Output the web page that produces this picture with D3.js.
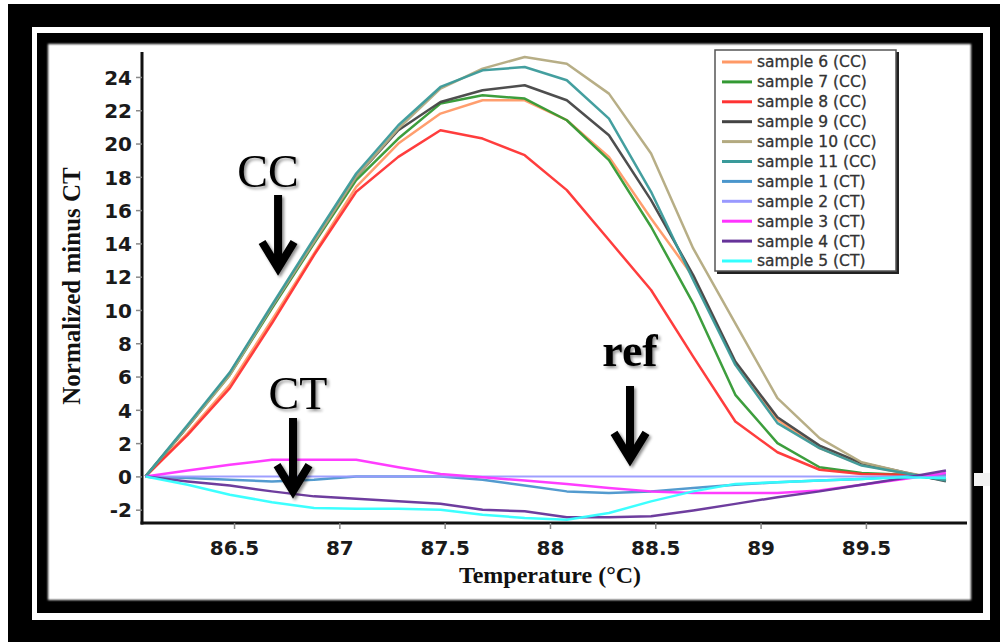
<!DOCTYPE html>
<html><head><meta charset="utf-8">
<script src="https://cdn.jsdelivr.net/npm/d3@7"></script>
<style>html,body{margin:0;padding:0;background:#fff;}svg{display:block;}</style>
</head><body>
<svg id="chart" width="1000" height="642"></svg>
<script>
// ---- data ----
const temps = [86.08, 86.28, 86.48, 86.68, 86.88, 87.08, 87.28, 87.48, 87.68, 87.88, 88.08, 88.28, 88.48, 88.68, 88.88, 89.08, 89.28, 89.48, 89.68, 89.88];
const seriesNames = ["sample 6 (CC)", "sample 7 (CC)", "sample 8 (CC)", "sample 9 (CC)", "sample 10 (CC)", "sample 11 (CC)", "sample 1 (CT)", "sample 2 (CT)", "sample 3 (CT)", "sample 4 (CT)", "sample 5 (CT)"];
const seriesColors = ["#ff9966", "#339933", "#ff3333", "#444444", "#b3aa80", "#3a9a9a", "#4a96cc", "#9999ff", "#ff33ff", "#663399", "#33ffff"];
const sample6 = [0, 2.6, 5.5, 9.4, 13.4, 17.4, 20.0, 21.8, 22.6, 22.6, 21.4, 19.2, 15.5, 12.0, 6.8, 3.4, 1.7, 0.7, 0.2, -0.2];
const sample7 = [0, 3.0, 6.1, 10.1, 14.0, 17.8, 20.3, 22.4, 22.9, 22.7, 21.4, 19.0, 15.0, 10.4, 4.9, 2.0, 0.55, 0.2, 0.1, -0.2];
const sample8 = [0, 2.5, 5.3, 9.2, 13.3, 17.1, 19.2, 20.8, 20.3, 19.3, 17.2, 14.2, 11.2, 7.2, 3.3, 1.45, 0.4, 0.15, 0.1, -0.1];
const sample9 = [0, 3.0, 6.2, 10.2, 14.1, 18.0, 20.8, 22.5, 23.2, 23.5, 22.6, 20.5, 16.6, 12.1, 6.9, 3.55, 1.85, 0.8, 0.25, -0.3];
const sample10 = [0, 3.0, 6.1, 10.2, 14.1, 18.0, 20.9, 23.3, 24.5, 25.2, 24.8, 23.0, 19.4, 13.7, 9.2, 4.7, 2.3, 0.85, 0.25, -0.2];
const sample11 = [0, 3.1, 6.25, 10.3, 14.3, 18.2, 21.1, 23.4, 24.4, 24.6, 23.8, 21.5, 17.1, 11.8, 6.7, 3.2, 1.7, 0.65, 0.2, -0.25];
const sample1 = [0, -0.1, -0.2, -0.3, -0.2, 0, 0, 0, -0.2, -0.55, -0.9, -1.0, -0.9, -0.7, -0.5, -0.35, -0.25, -0.15, 0, 0.1];
const sample2 = [0, 0, 0, 0, 0, 0, 0, 0, 0, 0, 0, 0, 0, 0, 0, 0, 0, 0, 0, 0];
const sample3 = [0, 0.35, 0.7, 1.0, 1.0, 1.0, 0.55, 0.15, -0.05, -0.25, -0.45, -0.7, -0.9, -1.0, -1.0, -1.0, -0.85, -0.5, -0.15, 0.2];
const sample4 = [0, -0.3, -0.55, -0.9, -1.2, -1.35, -1.5, -1.65, -2.0, -2.1, -2.45, -2.45, -2.4, -2.05, -1.65, -1.25, -0.9, -0.5, -0.1, 0.35];
const sample5 = [0, -0.5, -1.1, -1.55, -1.9, -1.95, -1.95, -2.0, -2.3, -2.5, -2.6, -2.2, -1.5, -0.9, -0.45, -0.35, -0.25, -0.15, -0.05, -0.1];
const seriesValues = [sample6, sample7, sample8, sample9, sample10, sample11, sample1, sample2, sample3, sample4, sample5];
const xTickValues = [86.5, 87, 87.5, 88, 88.5, 89, 89.5];
const yTickValues = [-2, 0, 2, 4, 6, 8, 10, 12, 14, 16, 18, 20, 22, 24];
const xTitle = "Temperature (\u00B0C)";
const yTitle = "Normalized minus CT";
const annotationLabels = ["CC", "CT", "ref"];
const annotationTips = [[86.709, 12.28], [86.78, -1.12], [88.38, 0.81]]; // arrow tip [temperature, value]

// ---- drawing ----
const svg = d3.select("#chart");
const defs = svg.append("defs");
defs.append("filter").attr("id", "soft").attr("x", "-5%").attr("y", "-5%").attr("width", "110%").attr("height", "110%")
  .append("feGaussianBlur").attr("stdDeviation", 1.3);
const sh = defs.append("filter").attr("id", "ashadow").attr("x", "-50%").attr("y", "-50%").attr("width", "200%").attr("height", "200%");
sh.append("feGaussianBlur").attr("in", "SourceAlpha").attr("stdDeviation", 1.6).attr("result", "b");
sh.append("feOffset").attr("in", "b").attr("dx", 1.5).attr("dy", 1.5).attr("result", "o");
sh.append("feComponentTransfer").attr("in", "o").attr("result", "o2").append("feFuncA").attr("type", "linear").attr("slope", 0.45);
const mg = sh.append("feMerge");
mg.append("feMergeNode").attr("in", "o2");
mg.append("feMergeNode").attr("in", "SourceGraphic");

// frame
svg.append("rect").attr("x", 0).attr("y", 0).attr("width", 1000).attr("height", 642).attr("fill", "#fff");
svg.append("rect").attr("x", 8).attr("y", 4).attr("width", 992).attr("height", 638).attr("fill", "#000");
svg.append("rect").attr("x", 32).attr("y", 27).attr("width", 958).attr("height", 593).attr("fill", "#fff");
svg.append("rect").attr("x", 37).attr("y", 33).attr("width", 946).attr("height", 580).attr("fill", "#000");
svg.append("rect").attr("x", 48).attr("y", 44).attr("width", 923).attr("height", 556).attr("fill", "#fff").attr("filter", "url(#soft)");
svg.append("rect").attr("x", 974).attr("y", 473).attr("width", 16).attr("height", 13).attr("fill", "#f2f2f2");

const x = d3.scaleLinear().domain([86.063, 89.98]).range([142, 967]);
const y = d3.scaleLinear().domain([-2.8, 25.5]).range([523, 52]);

// axes
const xAxis = svg.append("g").attr("transform", "translate(0,523)")
  .call(d3.axisBottom(x).tickValues(xTickValues).tickFormat(d => String(d)).tickSize(6).tickSizeOuter(0));
const yAxis = svg.append("g").attr("transform", "translate(142,0)")
  .call(d3.axisLeft(y).tickValues(yTickValues).tickFormat(d => String(d)).tickSize(6).tickSizeOuter(0));
[xAxis, yAxis].forEach(g => {
  g.select(".domain").attr("stroke", "#111").attr("stroke-width", 3);
  g.selectAll(".tick line").attr("stroke", "#888").attr("stroke-width", 1.5);
  g.selectAll(".tick text").attr("fill", "#1a1a1a").style("font-family", "'DejaVu Sans', sans-serif")
    .style("font-weight", "bold").style("font-size", "20px");
});
xAxis.selectAll(".tick text").attr("dy", "1.15em");
yAxis.selectAll(".tick text").attr("x", -10).attr("dy", "0.36em");
xAxis.select(".domain").attr("d", `M${x.range()[0] - 1.5},0H${x.range()[1]}`);
yAxis.select(".domain").attr("d", `M0,${y.range()[1]}V${y.range()[0] + 1.5}`);

// lines
const line = d3.line().x((d, i) => x(temps[i])).y(d => y(d));
const lg = svg.append("g");
seriesValues.forEach((vals, i) => {
  lg.append("path").datum(vals).attr("d", line).attr("fill", "none")
    .attr("stroke", seriesColors[i]).attr("stroke-width", i === 7 ? 2 : 2.5)
    .attr("stroke-linejoin", "round").attr("opacity", 0.95);
});

// annotations: text + arrows
const ag = svg.append("g").attr("filter", "url(#ashadow)");
const textDx = [-10, 5, 0];
const textDy = [-85, -86, -97];
annotationLabels.forEach((label, i) => {
  const tx = x(annotationTips[i][0]), ty = y(annotationTips[i][1]);
  ag.append("path")
    .attr("d", `M${tx},${ty - 77}V${ty - 6}M${tx - 16},${ty - 30}L${tx},${ty - 4}L${tx + 16},${ty - 30}`)
    .attr("fill", "none").attr("stroke", "#000").attr("stroke-width", 8).attr("stroke-linejoin", "miter").attr("stroke-miterlimit", 10);
  ag.append("text").attr("x", tx + textDx[i]).attr("y", ty + textDy[i]).attr("text-anchor", "middle")
    .style("font-family", "'Liberation Serif', serif").style("font-size", "46px")
    .style("font-weight", label === "ref" ? "bold" : "normal").attr("fill", "#000").text(label);
});

// axis titles
svg.append("text").attr("x", 550).attr("y", 583).attr("text-anchor", "middle")
  .style("font-family", "'Liberation Serif', serif").style("font-weight", "bold").style("font-size", "24px")
  .attr("fill", "#111").text(xTitle);
svg.append("text").attr("transform", "translate(80,286) rotate(-90)").attr("text-anchor", "middle")
  .style("font-family", "'Liberation Serif', serif").style("font-weight", "bold").style("font-size", "25px")
  .attr("fill", "#111").text(yTitle);

// legend
const leg = svg.append("g");
leg.append("rect").attr("x", 717).attr("y", 52).attr("width", 182).attr("height", 222).attr("fill", "#222");
leg.append("rect").attr("x", 715).attr("y", 50).attr("width", 181).attr("height", 221).attr("fill", "#fff").attr("stroke", "#555").attr("stroke-width", 1.5);
seriesNames.forEach((name, i) => {
  const yy = 62 + i * 19.9;
  leg.append("line").attr("x1", 722).attr("x2", 752).attr("y1", yy).attr("y2", yy)
    .attr("stroke", seriesColors[i]).attr("stroke-width", 3);
  leg.append("text").attr("x", 757).attr("y", yy).attr("dy", "0.35em")
    .style("font-family", "'DejaVu Sans', sans-serif").style("font-size", "15.5px")
    .attr("fill", "#333").attr("stroke", "#333").attr("stroke-width", 0.3).text(name);
});
</script>
</body></html>
